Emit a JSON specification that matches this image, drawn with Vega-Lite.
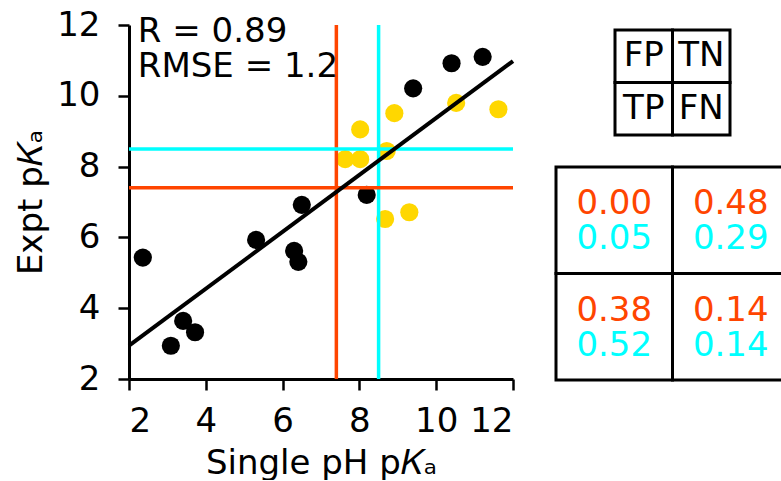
{
  "$schema": "https://vega.github.io/schema/vega-lite/v6.json",
  "padding": {"left": 14, "top": 8, "right": 0, "bottom": 0},
  "bounds": "flush",
  "spacing": 43,
  "background": "white",
  "config": {
    "view": {"stroke": null},
    "font": "DejaVu Sans",
    "axis": {
      "grid": false,
      "domainColor": "black",
      "domainWidth": 3,
      "tickColor": "black",
      "tickWidth": 2.5,
      "labelFont": "DejaVu Sans",
      "labelFontSize": 34,
      "labelColor": "black",
      "titleFont": "DejaVu Sans",
      "titleFontSize": 34,
      "titleFontWeight": "normal",
      "titleColor": "black"
    }
  },
  "datasets": {
    "pts": [
      {"pred": 2.36, "expt": 5.43, "cls": "agree"},
      {"pred": 3.09, "expt": 2.94, "cls": "agree"},
      {"pred": 3.41, "expt": 3.64, "cls": "agree"},
      {"pred": 3.72, "expt": 3.32, "cls": "agree"},
      {"pred": 5.31, "expt": 5.93, "cls": "agree"},
      {"pred": 6.30, "expt": 5.62, "cls": "agree"},
      {"pred": 6.41, "expt": 5.31, "cls": "agree"},
      {"pred": 6.50, "expt": 6.92, "cls": "agree"},
      {"pred": 8.19, "expt": 7.20, "cls": "agree"},
      {"pred": 9.40, "expt": 10.21, "cls": "agree"},
      {"pred": 10.40, "expt": 10.92, "cls": "agree"},
      {"pred": 11.21, "expt": 11.10, "cls": "agree"},
      {"pred": 8.67, "expt": 6.52, "cls": "other"},
      {"pred": 9.30, "expt": 6.71, "cls": "other"},
      {"pred": 8.02, "expt": 9.05, "cls": "other"},
      {"pred": 8.91, "expt": 9.51, "cls": "other"},
      {"pred": 7.63, "expt": 8.21, "cls": "other"},
      {"pred": 8.02, "expt": 8.21, "cls": "other"},
      {"pred": 8.71, "expt": 8.44, "cls": "other"},
      {"pred": 10.52, "expt": 9.80, "cls": "other"},
      {"pred": 11.62, "expt": 9.62, "cls": "other"}
    ],
    "thr": [
      {"value": 7.4, "cut": "orange"},
      {"value": 8.5, "cut": "cyan"}
    ],
    "fit": [
      {"pred": 2, "expt": 2.94},
      {"pred": 12, "expt": 10.98}
    ],
    "stats": [
      {"pred": 2.23, "expt": 11.52, "label": "R = 0.89"},
      {"pred": 2.23, "expt": 10.53, "label": "RMSE = 1.2"}
    ],
    "key": [
      {"c": "L", "r": "top", "t": "FP"},
      {"c": "R", "r": "top", "t": "TN"},
      {"c": "L", "r": "bottom", "t": "TP"},
      {"c": "R", "r": "bottom", "t": "FN"}
    ],
    "rates": [
      {"c": "L", "r": "top", "o": "0.00", "cy": "0.05"},
      {"c": "R", "r": "top", "o": "0.48", "cy": "0.29"},
      {"c": "L", "r": "bottom", "o": "0.38", "cy": "0.52"},
      {"c": "R", "r": "bottom", "o": "0.14", "cy": "0.14"}
    ]
  },
  "hconcat": [
    {
      "width": 384,
      "height": 354,
      "layer": [
        {
          "data": {"name": "pts"},
          "mark": {"type": "circle", "size": 330, "opacity": 1},
          "encoding": {
            "x": {"field": "pred", "type": "quantitative",
              "scale": {"domain": [2, 12], "nice": false, "zero": false},
              "axis": {"title": "Single pH p𝐾ₐ", "values": [2,3,4,5,6,7,8,9,10,11,12],
                "labelExpr": "datum.value % 2 === 0 ? datum.label : ''",
                "tickSize": {"condition": {"test": "datum.value % 2 === 0", "value": 11}, "value": 6},
                "labelPadding": 14, "titlePadding": 8}},
            "y": {"field": "expt", "type": "quantitative",
              "scale": {"domain": [2, 12], "nice": false, "zero": false},
              "axis": {"title": "Expt p𝐾ₐ", "values": [2,3,4,5,6,7,8,9,10,11,12],
                "labelExpr": "datum.value % 2 === 0 ? datum.label : ''",
                "tickSize": {"condition": {"test": "datum.value % 2 === 0", "value": 11}, "value": 6},
                "labelPadding": 18, "titlePadding": 8}},
            "fill": {"field": "cls", "type": "nominal",
              "scale": {"domain": ["agree", "other"], "range": ["black", "#FFD700"]},
              "legend": null}
          }
        },
        {
          "data": {"name": "thr"},
          "mark": {"type": "rule", "strokeWidth": 3.5},
          "encoding": {
            "x": {"field": "value", "type": "quantitative"},
            "stroke": {"field": "cut", "type": "nominal",
              "scale": {"domain": ["orange", "cyan"], "range": ["#FF4500", "#00FFFF"]},
              "legend": null}
          }
        },
        {
          "data": {"name": "thr"},
          "mark": {"type": "rule", "strokeWidth": 3.5},
          "encoding": {
            "y": {"field": "value", "type": "quantitative"},
            "stroke": {"field": "cut", "type": "nominal", "legend": null}
          }
        },
        {
          "data": {"name": "fit"},
          "mark": {"type": "line", "color": "black", "strokeWidth": 4},
          "encoding": {
            "x": {"field": "pred", "type": "quantitative"},
            "y": {"field": "expt", "type": "quantitative"}
          }
        },
        {
          "data": {"name": "stats"},
          "mark": {"type": "text", "align": "left", "baseline": "alphabetic", "fontSize": 34, "color": "black"},
          "encoding": {
            "x": {"field": "pred", "type": "quantitative"},
            "y": {"field": "expt", "type": "quantitative"},
            "text": {"field": "label"}
          }
        }
      ]
    },
    {
      "vconcat": [
        {
          "width": 115,
          "height": 110,
          "data": {"name": "key"},
          "encoding": {
            "x": {"field": "c", "type": "nominal", "axis": null,
              "scale": {"paddingInner": 0, "paddingOuter": 0}},
            "y": {"field": "r", "type": "nominal", "axis": null,
              "scale": {"domain": ["top", "bottom"], "paddingInner": 0, "paddingOuter": 0.0476, "align": 1}}
          },
          "layer": [
            {"mark": {"type": "rect", "fill": "white", "stroke": "black", "strokeWidth": 3}},
            {"mark": {"type": "text", "fontSize": 34, "color": "black"},
              "encoding": {"text": {"field": "t"}}}
          ]
        },
        {
          "width": 233,
          "height": 213,
          "data": {"name": "rates"},
          "encoding": {
            "x": {"field": "c", "type": "nominal", "axis": null,
              "scale": {"paddingInner": 0, "paddingOuter": 0}},
            "y": {"field": "r", "type": "nominal", "axis": null,
              "scale": {"domain": ["top", "bottom"], "paddingInner": 0, "paddingOuter": 0}}
          },
          "layer": [
            {"mark": {"type": "rect", "fill": "white", "stroke": "black", "strokeWidth": 3}},
            {"mark": {"type": "text", "fontSize": 34, "color": "#FF4500", "dy": -16},
              "encoding": {"text": {"field": "o"}}},
            {"mark": {"type": "text", "fontSize": 34, "color": "#00FFFF", "dy": 19},
              "encoding": {"text": {"field": "cy"}}}
          ]
        }
      ],
      "spacing": 32,
      "center": true,
      "bounds": "flush"
    }
  ]
}
